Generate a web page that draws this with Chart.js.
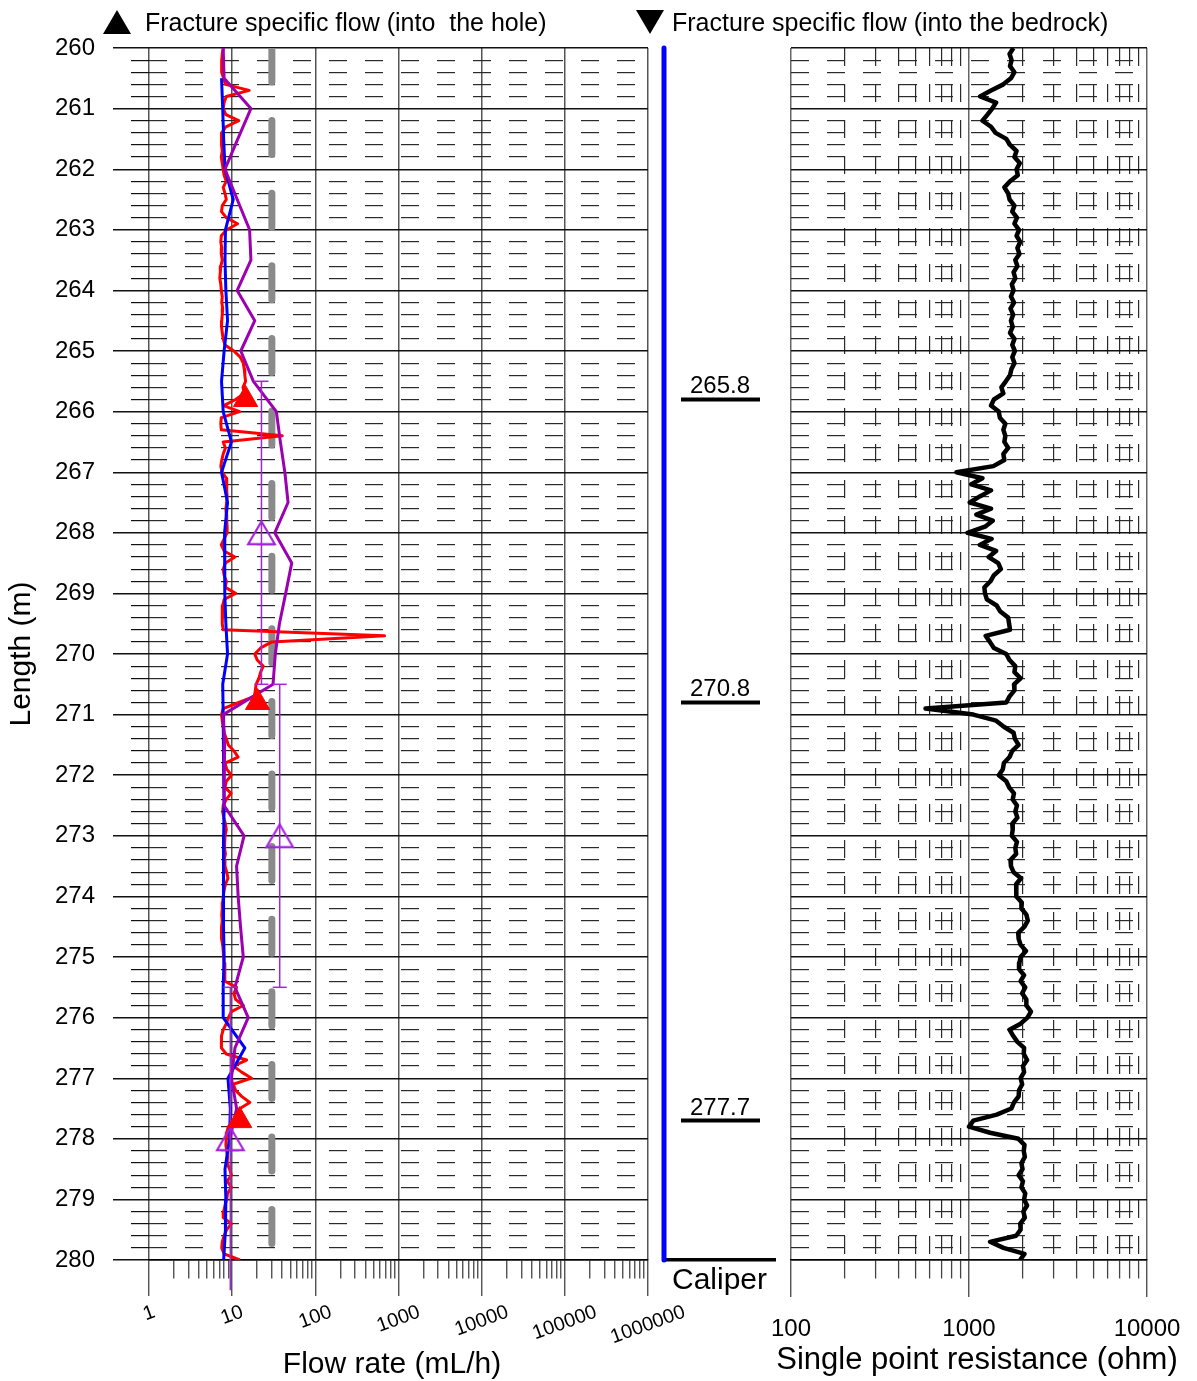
<!DOCTYPE html>
<html lang="en">
<head>
<meta charset="utf-8">
<title>Flow logging 260–280 m</title>
<script src="https://cdn.jsdelivr.net/npm/chart.js@4.4.1/dist/chart.umd.min.js"></script>
<style>
  html, body { margin: 0; padding: 0; background: #fff; }
  #sheet { position: relative; width: 1197px; height: 1381px; overflow: hidden; background: #fff;
           font-family: "Liberation Sans", Arial, Helvetica, sans-serif; color: #000; }
  #sheet canvas { position: absolute; top: 0; }
  #flowCanvas { left: 0; }
  #caliperCanvas { left: 650px; }
  #resCanvas { left: 770px; }
  .key { position: absolute; top: 5px; height: 34px; display: flex; align-items: center; font-size: 25px; white-space: pre; }
  .key .mark { width: 0; height: 0; border-left: 14px solid transparent; border-right: 14px solid transparent; }
  .mark.up { border-bottom: 24px solid #000; margin-right: 14px; }
  .mark.down { border-top: 24px solid #000; margin-right: 8px; }
</style>
</head>
<body>
<div id="sheet">
  <canvas id="flowCanvas" width="700" height="1381"></canvas>
  <canvas id="caliperCanvas" width="140" height="1381"></canvas>
  <canvas id="resCanvas" width="427" height="1381"></canvas>
  <div class="key" style="left:103px"><span class="mark up"></span><span>Fracture specific flow (into  the hole)</span></div>
  <div class="key" style="left:636px"><span class="mark down"></span><span>Fracture specific flow (into the bedrock)</span></div>
</div>
<script>
// ---------------- data ----------------
const depthTop = 260;
const depthBottom = 280;

// flow along 0.1 m sections, from 260.0 m down to 280.0 m (mL/h)
const flowFineStep = 0.1;
const flowFine = [
  7.8, 7.6, 7.5, 7.45, 7.5, 7.9, 8.3, 16, 8.5, 8.0,
  7.8, 8.4, 12, 8.4, 7.5, 7.4, 7.5, 7.6, 7.4, 7.6,
  7.8, 8.0, 8.5, 7.8, 8.2, 8.5, 7.6, 7.45, 8.5, 11.6,
  8.6, 7.4, 7.3, 7.5, 7.4, 7.6, 7.3, 7.2, 7.1, 7.3,
  7.4, 7.6, 7.5, 7.7, 7.6, 7.5, 7.45, 7.6, 7.8, 8.2,
  10.5, 12.5, 13.6, 14.0, 14.2, 14.5, 13.5, 14, 11, 7.9,
  12.3, 7.4, 7.3, 7.4, 40, 7.8, 8.3, 7.8, 7.5, 7.3,
  7.6, 8.5, 8.6, 8.6, 8.7, 8.6, 8.4, 8.5, 8.6, 8.7,
  8.7, 8.0, 7.4, 8.0, 10.8, 8.3, 7.8, 8.0, 8.5, 8.3,
  11.0, 8.0, 7.7, 7.6, 7.6, 7.6, 7.8, 680, 30, 22,
  18.7, 20, 23.6, 22, 21, 19.4, 19, 18.5, 12, 7.8,
  7.45, 7.6, 7.8, 8.0, 8.5, 9.0, 10.5, 11.8, 8.2, 8.6,
  9.8, 8.5, 8.2, 9.7, 8.5, 7.8, 7.7, 7.9, 8.3, 8.5,
  8.2, 8.0, 8.2, 8.3, 8.0, 8.2, 8.6, 8.9, 8.3, 8.0,
  7.8, 7.7, 7.6, 7.5, 7.6, 7.45, 7.4, 7.5, 7.7, 7.8,
  7.9, 8.0, 8.1, 8.2, 8.2, 11.3, 10.5, 11, 13.6, 9.8,
  9.0, 8.5, 7.8, 7.45, 7.4, 7.45, 8.5, 14.9, 10.3, 13,
  17.1, 10.3, 11, 13, 16.3, 12.4, 11.5, 11, 9.0, 8.6,
  8.5, 8.4, 8.6, 8.8, 8.7, 9.3, 9.8, 8.7, 9.8, 8.8,
  8.6, 8.2, 7.9, 7.8, 9.8, 8.6, 8.0, 7.6, 7.5, 8.0,
  12.4
];

// flow with 0.5 m depth step, starting at 260.5 m (blue trace)
const flowHalfStart = 260.5;
const flowHalfStep = 0.5;
const flowHalf = [
  7.45, 7.7, 7.9, 8.2, 10.3, 8.3, 8.2, 8.4, 8.8, 8.0,
  7.45, 7.8, 9.8, 7.45, 8.8, 8.1, 8.1, 8.2, 8.4, 8.8,
  7.7, 7.8, 7.9, 7.9, 8.0, 7.9, 7.8, 7.9, 7.9, 8.0,
  7.8, 7.8, 14.2, 8.9, 9.5, 9.3, 8.2, 8.4, 8.3, 7.9
];

// flow with 0.5 m depth step, starting at 260.0 m (purple trace)
const flowCoarseStart = 260.0;
const flowCoarseStep = 0.5;
const flowCoarse = [
  7.8, 8.0, 16.8, 11.7, 8.2, 11.5, 16.2, 16.8, 11.5, 18.7,
  12.7, 18.0, 34, 38, 43, 47, 32.5, 52, 44, 37,
  33, 31, 7.8, 8.1, 8.0, 8.0, 13.9, 11.3, 11.8, 12.6,
  13.6, 10.8, 15.6, 10.8, 9.8, 11.3, 9.4
];

// fracture specific flow into the hole
const fractureDepth = [265.8, 270.8, 277.7];
const fractureFlow = [14.5, 20.2, 12.3];

// 5 m section flow, with section limits
const sectionDepth = [268.0, 273.0, 278.0];
const sectionFlow = [22.5, 37.3, 9.5];
const sectionTop = [265.5, 270.5, 275.5];
const sectionBottom = [270.5, 275.5, 280.5];

// measurement limit
const limitDepth = [260, 280];
const limitFlow = [30, 30];

// caliper
const caliperDepth = [260, 280];
const caliperValue = [76, 76];
const caliperLabels = ['265.8', '270.8', '277.7'];

// single point resistance, 0.1 m step from 260.0 m (ohm)
const resistanceStep = 0.1;
const resistance = [
  1776, 1690, 1735, 1700, 1800, 1720, 1560, 1330, 1154, 1420,
  1350, 1270, 1190, 1330, 1410, 1620, 1700, 1850, 1800, 1930,
  1850, 1880, 1700, 1580, 1660, 1690, 1800, 1750, 1860, 1800,
  1910, 1850, 1940, 1870, 1920, 1820, 1870, 1780, 1820, 1740,
  1780, 1720, 1790, 1710, 1770, 1720, 1760, 1700, 1800, 1750,
  1810, 1750, 1800, 1730, 1700, 1610, 1520, 1560, 1380, 1330,
  1470, 1490, 1600, 1560, 1600, 1580, 1660, 1560, 1580, 1371,
  850, 1190, 1030, 1330, 1150, 1010, 1330, 1100, 1360, 1230,
  980, 1340, 1150, 1420, 1290, 1460, 1510, 1380, 1320, 1220,
  1230, 1260, 1430, 1500, 1660, 1680, 1700, 1240, 1310, 1380,
  1620, 1690, 1820, 1800, 1950, 1790, 1800, 1690, 1620, 570,
  1058, 1420, 1570, 1780, 1810, 1900, 1750, 1690, 1570, 1550,
  1470, 1620, 1680, 1790, 1760, 1860, 1820, 1870, 1750, 1760,
  1740, 1860, 1820, 1840, 1710, 1720, 1780, 1960, 1840, 1850,
  1840, 1980, 1970, 2100, 2140, 2050, 1890, 1900, 1950, 2090,
  1950, 1920, 1910, 2040, 1950, 2070, 1990, 2100, 2100, 2230,
  2130, 1950, 1690, 1770, 1870, 2040, 2030, 2120, 2010, 2040,
  1950, 1990, 1910, 1900, 1790, 1730, 1432, 1058, 1000, 1313,
  1895, 2050, 2030, 2060, 1970, 2000, 1900, 2010, 1970, 2070,
  2040, 2120, 2020, 2060, 1940, 1950, 1840, 1313, 1561, 2050,
  1936
];

// axis labels and titles
const flowTickValues = [1, 10, 100, 1000, 10000, 100000, 1000000];
const flowTickLabels = ['1', '10', '100', '1000', '10000', '100000', '1000000'];
const resTickValues = [100, 1000, 10000];
const resTickLabels = ['100', '1000', '10000'];
const flowTitle = 'Flow rate (mL/h)';
const resTitle = 'Single point resistance (ohm)';
const flowAxisMin = 1;
const flowAxisMax = 1000000;
const resAxisMin = 100;
const resAxisMax = 10000;

// ---------------- helpers ----------------
const FONT = '"Liberation Sans", Arial, Helvetica, sans-serif';
Chart.defaults.font.family = FONT;
Chart.defaults.color = '#000';

const round2 = v => Math.round(v * 100) / 100;
const toPoints = (depths, values) => values.map((v, i) => ({ x: v, y: depths[i] }));
const stepDepths = (start, step, n) => Array.from({ length: n }, (_, i) => round2(start + i * step));

const isWhole = v => Math.abs(v - Math.round(v)) < 1e-6;
const isDecade = v => { const l = Math.log10(v); return Math.abs(l - Math.round(l)) < 1e-6; };
const tickVal = c => (c && c.tick) ? c.tick.value : null;

function depthTicks() {
  const t = [];
  for (let i = 0; i <= (depthBottom - depthTop) * 5; i++) t.push({ value: round2(depthTop + i * 0.2) });
  return t;
}
function logTicks(e0, e1) {
  const t = [];
  for (let e = e0; e < e1; e++) for (let m = 1; m < 10; m++) t.push({ value: m * Math.pow(10, e) });
  t.push({ value: Math.pow(10, e1) });
  return t;
}

// depth axis: solid lines every metre, dashed every 0.2 m
function depthAxis(extra) {
  return Object.assign({
    type: 'linear', reverse: true, min: depthTop, max: depthBottom,
    afterBuildTicks: s => { s.ticks = depthTicks(); },
    grid: {
      drawTicks: false,
      color: c => { const v = tickVal(c); return v === null || isWhole(v) ? '#111' : '#2a2a2a'; },
      lineWidth: c => { const v = tickVal(c); return v === null || isWhole(v) ? 1.4 : 1.2; }
    },
    border: {
      display: false,
      dash: c => { const v = tickVal(c); return (v !== null && !isWhole(v)) ? [18, 18] : []; }
    }
  }, extra);
}

// open triangle marker for the section flow
function openTriangle(w, h, color, lw) {
  const c = document.createElement('canvas');
  c.width = w + lw * 2; c.height = h + lw * 2;
  const g = c.getContext('2d');
  g.strokeStyle = color; g.lineWidth = lw; g.lineJoin = 'miter';
  g.beginPath();
  g.moveTo(c.width / 2, lw);
  g.lineTo(c.width - lw, c.height - lw);
  g.lineTo(lw, c.height - lw);
  g.closePath();
  g.stroke();
  return c;
}

// bottom axis title placed under a panel
function bottomTitle(id, text, size, xPage, canvasLeft, y) {
  return {
    id,
    afterDraw(chart) {
      const ctx = chart.ctx;
      ctx.save();
      ctx.font = size + 'px ' + FONT;
      ctx.fillStyle = '#000';
      ctx.textAlign = 'center';
      ctx.textBaseline = 'middle';
      ctx.fillText(text, xPage - canvasLeft, y);
      ctx.restore();
    }
  };
}

const RED = '#ff0000', BLUE = '#0000ff', PURPLE = '#9c00b0', VIOLET = '#a424dc', GREY = '#8a8a8a';

// ---------------- flow panel ----------------
const fineDepth = stepDepths(depthTop, flowFineStep, flowFine.length);
const halfDepth = stepDepths(flowHalfStart, flowHalfStep, flowHalf.length);
const coarseDepth = stepDepths(flowCoarseStart, flowCoarseStep, flowCoarse.length);

const errorBarSets = sectionFlow.map((v, i) => ({
  data: [{ x: v, y: sectionTop[i] }, { x: v, y: sectionBottom[i] }],
  showLine: true, borderColor: VIOLET, borderWidth: 1.5,
  pointStyle: 'line', pointRadius: 7, pointBorderWidth: 1.5, pointBorderColor: VIOLET,
  clip: false
}));

const flowTickLabelPlugin = {
  id: 'flowTickLabels',
  afterDraw(chart) {
    const s = chart.scales.x, ctx = chart.ctx;
    const ang = 20 * Math.PI / 180, h = 14;
    ctx.save();
    ctx.font = '20px ' + FONT;
    ctx.fillStyle = '#000';
    ctx.textAlign = 'center';
    ctx.textBaseline = 'middle';
    flowTickValues.forEach((v, i) => {
      const txt = flowTickLabels[i];
      const L = ctx.measureText(txt).width;
      const x = s.getPixelForValue(v);
      const y = s.top + 45 + (L / 2) * Math.sin(ang) + (h / 2) * Math.cos(ang);
      ctx.save();
      ctx.translate(x, y);
      ctx.rotate(-ang);
      ctx.fillText(txt, 0, 0);
      ctx.restore();
    });
    ctx.restore();
  }
};

new Chart(document.getElementById('flowCanvas'), {
  type: 'scatter',
  data: {
    datasets: [
      { data: toPoints(fractureDepth, fractureFlow), pointStyle: 'triangle', pointRadius: 14,
        backgroundColor: RED, borderColor: RED, borderWidth: 1 },
      { data: toPoints(sectionDepth, sectionFlow), pointStyle: openTriangle(27, 23, VIOLET, 2.2), pointRadius: 12 },
      ...errorBarSets,
      { data: toPoints(coarseDepth, flowCoarse), showLine: true, borderColor: PURPLE, borderWidth: 3,
        pointRadius: 0, borderJoinStyle: 'round' },
      { data: toPoints(halfDepth, flowHalf), showLine: true, borderColor: BLUE, borderWidth: 3,
        pointRadius: 0, borderJoinStyle: 'round' },
      { data: toPoints(fineDepth, flowFine), showLine: true, borderColor: RED, borderWidth: 3,
        pointRadius: 0, borderJoinStyle: 'round' },
      { data: toPoints(limitDepth, limitFlow), showLine: true, borderColor: GREY, borderWidth: 7,
        borderDash: [34, 38.6], borderCapStyle: 'round', pointRadius: 0 }
    ]
  },
  options: {
    responsive: false, animation: false, events: [],
    layout: { padding: { top: 48, right: 52, bottom: 0, left: 0 } },
    plugins: { legend: { display: false }, tooltip: { enabled: false } },
    scales: {
      x: {
        type: 'logarithmic', min: flowAxisMin, max: flowAxisMax,
        afterBuildTicks: s => { s.ticks = logTicks(0, 6); },
        afterFit: s => { s.height = 121; },
        ticks: { display: false, autoSkip: false },
        grid: {
          color: c => { const v = tickVal(c); return v !== null && isDecade(v) ? '#555' : 'rgba(0,0,0,0)'; },
          lineWidth: 1.5,
          tickLength: 36,
          tickColor: '#444',
          tickWidth: 1.3,
          tickBorderDash: c => { const v = tickVal(c); return v !== null && isDecade(v) ? [] : [18, 80]; }
        },
        border: { display: true, color: '#000', width: 1.5 },
        title: { display: false }
      },
      y: depthAxis({
        afterFit: s => { s.width = 149; },
        ticks: { autoSkip: false, padding: 18, font: { size: 24 }, color: '#000',
                 callback: v => isWhole(v) ? String(Math.round(v)) : '' },
        grid: {
          drawTicks: true,
          tickLength: 36,
          tickColor: '#111',
          tickWidth: c => { const v = tickVal(c); return v === null || isWhole(v) ? 1.4 : 1.2; },
          tickBorderDash: c => { const v = tickVal(c); return v !== null && !isWhole(v) ? [18, 18] : []; },
          tickBorderDashOffset: c => { const v = tickVal(c); return v !== null && !isWhole(v) ? 18 : 0; },
          color: c => { const v = tickVal(c); return v === null || isWhole(v) ? '#111' : '#2a2a2a'; },
          lineWidth: c => { const v = tickVal(c); return v === null || isWhole(v) ? 1.4 : 1.2; }
        },
        title: { display: true, text: 'Length (m)', font: { size: 30 }, color: '#000', padding: { top: 4, bottom: 0 } }
      })
    }
  },
  plugins: [flowTickLabelPlugin, bottomTitle('flowTitle', flowTitle, 30, 392, 0, 1365)]
});

// ---------------- caliper panel ----------------
const caliperLabelPlugin = {
  id: 'caliperLabels',
  afterDatasetsDraw(chart) {
    const y = chart.scales.y, area = chart.chartArea, ctx = chart.ctx;
    ctx.save();
    ctx.strokeStyle = '#000';
    ctx.lineWidth = 4;
    ctx.fillStyle = '#000';
    ctx.font = '24px ' + FONT;
    ctx.textAlign = 'center';
    ctx.textBaseline = 'alphabetic';
    caliperLabels.forEach((txt, i) => {
      const py = y.getPixelForValue(fractureDepth[i]);
      ctx.beginPath();
      ctx.moveTo(area.left + 17, py);
      ctx.lineTo(area.left + 96, py);
      ctx.stroke();
      ctx.fillText(txt, area.left + 56, py - 6);
    });
    ctx.restore();
  }
};

new Chart(document.getElementById('caliperCanvas'), {
  type: 'scatter',
  data: {
    datasets: [
      { data: toPoints(caliperDepth, caliperValue), showLine: true, borderColor: BLUE, borderWidth: 5,
        borderCapStyle: 'round', pointRadius: 0, clip: false }
    ]
  },
  options: {
    responsive: false, animation: false, events: [],
    layout: { padding: { top: 48, right: 15, bottom: 0, left: 14 } },
    plugins: { legend: { display: false }, tooltip: { enabled: false } },
    scales: {
      x: {
        type: 'linear', min: 76, max: 80,
        afterFit: s => { s.height = 121; },
        ticks: { display: false },
        grid: { display: false },
        border: { display: true, color: '#000', width: 3.5 },
        title: { display: true, text: 'Caliper', font: { size: 30 }, color: '#000', padding: { top: 0, bottom: 82 } }
      },
      y: { type: 'linear', reverse: true, min: depthTop, max: depthBottom, display: false }
    }
  },
  plugins: [caliperLabelPlugin]
});

// ---------------- resistance panel ----------------
const resDepth = stepDepths(depthTop, resistanceStep, resistance.length);

const resTickLabelPlugin = {
  id: 'resTickLabels',
  afterDraw(chart) {
    const s = chart.scales.x, ctx = chart.ctx;
    ctx.save();
    ctx.font = '24px ' + FONT;
    ctx.fillStyle = '#000';
    ctx.textAlign = 'center';
    ctx.textBaseline = 'middle';
    resTickValues.forEach((v, i) => {
      ctx.fillText(resTickLabels[i], s.getPixelForValue(v), s.top + 69);
    });
    ctx.restore();
  }
};

new Chart(document.getElementById('resCanvas'), {
  type: 'scatter',
  data: {
    datasets: [
      { data: toPoints(resDepth, resistance), showLine: true, borderColor: '#000', borderWidth: 4.5,
        pointRadius: 0, borderJoinStyle: 'round' }
    ]
  },
  options: {
    responsive: false, animation: false, events: [],
    layout: { padding: { top: 48, right: 50, bottom: 0, left: 21 } },
    plugins: { legend: { display: false }, tooltip: { enabled: false } },
    scales: {
      x: {
        type: 'logarithmic', min: resAxisMin, max: resAxisMax,
        afterBuildTicks: s => { s.ticks = logTicks(2, 4); },
        afterFit: s => { s.height = 121; },
        ticks: { display: false, autoSkip: false },
        grid: {
          color: c => { const v = tickVal(c); return v === null || isDecade(v) ? '#666' : '#2a2a2a'; },
          lineWidth: c => { const v = tickVal(c); return v === null || isDecade(v) ? 1.5 : 1.2; },
          tickLength: 37,
          tickColor: '#444',
          tickWidth: 1.3,
          tickBorderDash: c => { const v = tickVal(c); return v !== null && isDecade(v) ? [] : [18, 80]; }
        },
        border: { display: true, color: '#000', width: 1.5,
                  dash: c => { const v = tickVal(c); return (v !== null && !isDecade(v)) ? [18, 18] : []; } },
        title: { display: false }
      },
      y: depthAxis({
        afterFit: s => { s.width = 0; },
        ticks: { display: false, autoSkip: false }
      })
    }
  },
  plugins: [resTickLabelPlugin, bottomTitle('resTitle', resTitle, 31, 977, 770, 1360)]
});
</script>
</body>
</html>
